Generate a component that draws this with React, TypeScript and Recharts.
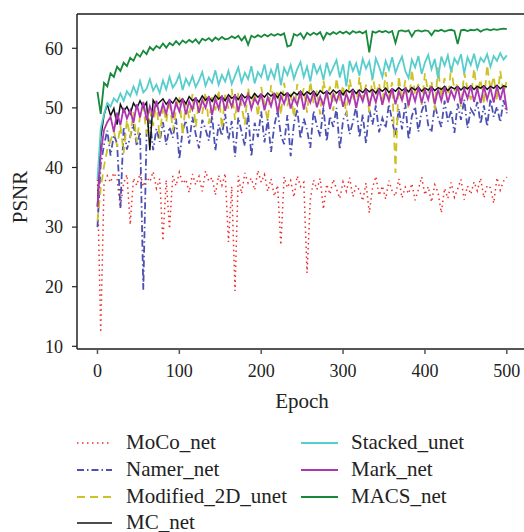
import React from "react";
import {
  Label,
  Legend,
  Line,
  LineChart,
  ReferenceLine,
  XAxis,
  YAxis,
} from "recharts";

const FONT = "Liberation Serif, DejaVu Serif, serif";

// PSNR, one value every 4 epochs (0..500)
const moco = [
  38.0, 12.3, 37.2, 38.6, 37.5, 39.1, 38.0, 33.3, 37.4, 38.8,
  30.4, 38.2, 37.0, 39.0, 36.8, 38.4, 37.6, 39.3, 36.5, 38.1,
  27.7, 37.9, 29.7, 38.6, 36.9, 39.2, 37.3, 38.0, 35.8, 38.9,
  37.1, 38.5, 36.0, 39.4, 37.7, 38.3, 35.4, 38.7, 37.0, 39.0,
  27.5, 36.8, 19.3, 38.6, 35.6, 39.1, 37.4, 38.2, 36.2, 39.5,
  37.5, 38.8, 36.0, 38.1, 35.2, 37.0, 27.0, 38.4, 36.6, 37.8,
  35.0, 38.6, 36.8, 37.5, 22.3, 34.6, 37.9, 36.3, 38.2, 33.0,
  37.2, 35.5, 38.0, 36.4, 34.8, 37.6, 36.0, 38.3, 35.1, 37.0,
  36.2, 34.4, 37.4, 32.4, 36.6, 38.5, 35.3, 36.9, 34.7, 37.8,
  36.0, 35.2, 38.1, 34.9, 36.7, 35.6, 37.3, 34.5, 36.3, 38.4,
  35.4, 36.8, 34.2, 37.1, 35.8, 32.4, 36.5, 34.8, 37.5, 35.0,
  36.4, 38.0, 34.6, 36.9, 35.5, 37.6, 36.1, 38.2, 34.9, 37.0,
  36.6, 34.0, 38.3, 36.2, 37.7, 38.4,
];

const namer = [
  30.0, 40.5, 43.8, 46.2, 42.0, 45.5, 44.0, 33.2, 46.8, 43.0,
  45.2, 47.3, 43.6, 46.0, 19.5, 45.8, 48.0, 42.9, 46.5, 44.3,
  47.6, 43.8, 46.8, 45.0, 48.2, 41.4, 46.2, 47.9, 44.0, 48.5,
  45.6, 43.2, 48.0, 46.4, 44.5, 48.7, 42.8, 47.2, 45.3, 49.0,
  44.6, 47.8, 41.8, 48.4, 46.0, 43.6, 49.2, 41.8, 47.5, 45.1,
  49.4, 44.2, 48.1, 42.6, 47.0, 49.6, 45.4, 43.9, 48.8, 41.9,
  47.4, 49.8, 44.8, 48.2, 46.3, 43.3, 49.5, 47.0, 45.2, 50.1,
  44.4, 48.6, 46.8, 50.0, 43.0, 48.0, 49.2, 45.6, 47.6, 50.3,
  45.0, 48.9, 44.0, 49.8, 47.2, 50.4, 45.9, 48.3, 46.6, 50.6,
  47.8, 45.2, 49.9, 46.4, 50.8, 44.7, 48.6, 50.2, 46.0, 49.4,
  51.0, 47.1, 45.9, 50.5, 48.4, 46.8, 51.2, 47.7, 49.6, 45.8,
  50.7, 48.0, 51.4, 46.6, 49.8, 48.9, 51.0, 47.3, 50.4, 46.9,
  51.5, 48.5, 50.2, 47.6, 51.3, 49.1,
];

const modified2d = [
  31.0, 36.5, 40.2, 43.0, 44.5, 46.2, 43.5, 47.0, 42.4, 48.0,
  45.0, 49.3, 44.2, 48.6, 50.2, 45.6, 49.5, 47.0, 51.0, 44.8,
  50.4, 47.6, 51.5, 46.2, 49.8, 52.0, 45.5, 50.9, 48.3, 52.3,
  46.8, 51.2, 49.0, 52.6, 47.3, 51.8, 49.6, 53.0, 46.5, 52.2,
  49.9, 53.2, 48.0, 52.5, 50.4, 47.2, 53.4, 50.0, 52.8, 48.5,
  53.5, 50.6, 47.8, 53.8, 51.0, 53.0, 48.8, 54.2, 50.3, 52.4,
  48.4, 54.0, 51.4, 53.3, 49.2, 54.4, 50.8, 52.9, 48.9, 54.6,
  51.6, 53.6, 49.5, 55.0, 51.2, 53.8, 48.6, 54.8, 52.0, 50.1,
  55.2, 51.5, 53.9, 49.3, 55.6, 52.2, 54.1, 50.4, 56.0, 51.8,
  54.3, 39.1, 55.4, 51.0, 54.6, 49.8, 56.4, 52.3, 54.0, 50.5,
  55.8, 52.6, 54.5, 49.6, 56.8, 51.7, 55.0, 50.9, 57.0, 52.8,
  54.2, 50.2, 55.9, 53.1, 51.4, 56.6, 52.4, 54.8, 50.6, 57.2,
  53.0, 55.3, 51.2, 56.2, 52.5, 54.6,
];

const mc = [
  33.5, 45.0, 48.8, 50.6, 48.7, 49.9, 47.2, 50.6, 49.4, 50.2,
  49.0, 50.8, 49.9, 51.2, 50.1, 50.9, 42.9, 51.3, 50.4, 51.0,
  51.5, 50.6, 51.3, 50.8, 51.7, 51.0, 51.5, 50.7, 51.9, 51.2,
  51.6, 51.0, 52.0, 51.3, 51.8, 51.1, 52.1, 51.5, 51.9, 51.2,
  52.2, 51.6, 52.0, 51.4, 52.3, 51.7, 52.1, 51.6, 52.4, 51.8,
  52.3, 51.8, 52.5, 52.0, 52.4, 51.7, 52.6, 52.1, 52.5, 51.9,
  52.6, 52.2, 52.8, 52.1, 52.7, 52.3, 52.8, 52.0, 52.9, 52.4,
  52.8, 52.3, 53.0, 52.5, 52.9, 52.2, 53.0, 52.6, 53.1, 52.4,
  53.0, 52.6, 53.2, 52.7, 53.1, 52.5, 53.2, 52.8, 53.3, 52.6,
  53.2, 52.8, 53.4, 52.9, 53.3, 52.7, 53.4, 53.0, 53.5, 52.8,
  53.3, 53.0, 53.5, 52.9, 53.4, 53.1, 53.6, 52.9, 53.5, 53.2,
  53.6, 53.0, 53.5, 53.2, 53.7, 53.1, 53.6, 53.3, 53.7, 53.1,
  53.6, 53.3, 53.8, 53.2, 53.7, 53.5,
];

const stacked = [
  38.0, 46.5, 49.0, 50.8, 50.2, 51.6, 51.0, 52.4, 51.2, 52.8,
  52.0, 53.6, 52.3, 54.5, 52.6, 53.2, 54.8, 52.9, 53.9, 52.5,
  54.6, 53.1, 55.2, 53.4, 54.2, 55.6, 53.0, 54.9, 53.8, 55.3,
  53.5, 54.6, 56.0, 53.7, 55.1, 54.2, 56.3, 53.9, 55.5, 54.4,
  56.2, 54.0, 55.4, 56.8, 54.3, 55.9, 54.8, 57.0, 54.1, 56.0,
  55.2, 57.3, 54.6, 56.4, 55.0, 57.5, 53.8, 56.7, 55.5, 57.2,
  54.9, 56.5, 57.7, 55.2, 56.9, 54.4, 57.5, 55.8, 57.0, 54.7,
  57.6, 55.6, 56.8, 58.0, 55.1, 57.3, 53.6, 57.9, 56.2, 57.5,
  55.4, 58.2, 56.6, 57.8, 54.8, 58.3, 56.9, 55.2, 57.9, 56.4,
  58.5, 55.9, 57.4, 58.6, 56.2, 55.0, 58.1, 56.8, 58.7, 55.7,
  57.6, 58.9, 56.5, 58.2, 54.9, 58.6, 57.1, 58.8, 56.0, 58.3,
  57.4, 59.0, 55.8, 58.5, 57.2, 59.1, 56.6, 58.4, 57.7, 59.0,
  56.9, 58.7, 57.9, 59.2, 58.1, 58.8,
];

const mark = [
  33.4, 42.4, 46.3, 47.6, 48.5, 46.0, 49.2, 47.1, 50.0, 48.2,
  49.6, 47.5, 50.6, 48.4, 51.0, 47.9, 50.3, 48.8, 51.2, 48.6,
  50.7, 49.0, 51.5, 48.3, 50.9, 49.4, 51.6, 48.9, 51.1, 49.7,
  51.8, 49.2, 51.3, 50.0, 52.0, 48.8, 51.5, 49.9, 52.1, 49.5,
  51.7, 50.2, 52.3, 49.3, 51.9, 50.4, 52.2, 49.8, 51.6, 50.6,
  52.4, 49.6, 51.8, 50.3, 52.5, 49.2, 52.0, 50.7, 52.6, 49.9,
  51.7, 50.5, 52.8, 49.7, 52.2, 50.9, 52.7, 50.1, 51.9, 50.4,
  52.9, 49.8, 52.3, 51.0, 52.8, 50.2, 52.4, 50.8, 53.0, 50.0,
  52.5, 51.1, 53.1, 50.3, 52.6, 50.9, 53.2, 50.5, 52.7, 51.2,
  53.3, 50.6, 52.8, 51.3, 53.4, 50.4, 52.9, 51.1, 53.5, 50.8,
  53.0, 51.4, 53.6, 50.6, 53.1, 51.2, 53.5, 50.9, 52.9, 51.5,
  53.6, 50.7, 53.2, 51.6, 53.7, 51.0, 53.3, 50.8, 53.6, 51.4,
  53.4, 50.9, 53.7, 51.3, 53.5, 49.6,
];

const macs = [
  52.7, 49.0, 54.2, 53.6, 55.8, 55.2, 56.9, 56.2, 57.6, 57.0,
  58.4, 57.9, 59.1, 58.6, 59.6, 59.0, 60.2, 59.7, 60.4, 60.0,
  60.8, 60.1, 60.9, 60.5, 61.2, 60.6, 61.3, 60.9, 61.4, 61.0,
  61.5, 60.8, 61.6, 61.3, 61.7, 61.2, 61.8, 61.4, 61.9, 61.5,
  61.6, 62.0, 61.7, 62.1, 61.3, 62.0, 60.6, 62.1, 61.8, 62.2,
  61.9, 62.3, 62.0, 62.4, 62.1, 62.4, 62.2, 62.5, 60.3, 60.5,
  62.4, 62.1, 62.5, 61.6, 62.6, 62.2, 62.6, 62.3, 62.7, 61.5,
  62.6, 62.3, 62.7, 62.4, 62.8, 62.5, 62.8, 62.4, 62.9, 62.6,
  62.8, 62.5, 62.9, 59.3, 62.8, 62.6, 62.9, 62.7, 62.9, 62.6,
  62.9, 60.9, 62.9, 63.0, 62.8, 63.0, 62.0, 62.9, 63.0, 62.8,
  63.0, 62.9, 62.2, 63.0, 62.9, 63.1, 62.8, 63.0, 63.1, 62.9,
  60.7, 63.0, 63.1, 62.9, 63.1, 63.0, 63.2, 62.8, 63.1, 63.2,
  63.0, 63.2, 63.1, 63.2, 63.3, 63.2,
];

const epochs = moco.map((_, i) => i * 4);
const xTicks = [0, 100, 200, 300, 400, 500];
const yTicks = [10, 20, 30, 40, 50, 60];
const Y_MIN = 9.55;
const Y_MAX = 65.75;

const series = [
  { name: "MoCo_net", values: moco },
  { name: "Namer_net", values: namer },
  { name: "Modified_2D_unet", values: modified2d },
  { name: "MC_net", values: mc },
  { name: "Stacked_unet", values: stacked },
  { name: "Mark_net", values: mark },
  { name: "MACS_net", values: macs },
];

const styles: Record<string, { color: string; dash?: string; width: number }> = {
  MoCo_net: { color: "#ee2e2e", dash: "1.5 3.5", width: 1.5 },
  Namer_net: { color: "#4b50b2", dash: "7 3 1.5 3", width: 1.8 },
  Modified_2D_unet: { color: "#cdc225", dash: "8 5", width: 1.8 },
  MC_net: { color: "#111111", width: 1.5 },
  Stacked_unet: { color: "#58cdcd", width: 1.8 },
  Mark_net: { color: "#ad36b3", width: 1.8 },
  MACS_net: { color: "#16893a", width: 1.8 },
};

const data = epochs.map((epoch, i) => {
  const row: Record<string, number> = { epoch };
  series.forEach((s) => {
    row[s.name] = s.values[i];
  });
  return row;
});

function LegendBox() {
  const cols = [series.slice(0, 4), series.slice(4)];
  const colX = [
    { line: 77, text: 126, len: 35 },
    { line: 301, text: 351, len: 37 },
  ];
  return (
    <div style={{ position: "relative", width: 524, height: 110 }}>
      {cols.map((col, c) =>
        col.map((s, r) => {
          const st = styles[s.name];
          const top = r * 26.8;
          return (
            <div key={s.name}>
              <svg
                width={colX[c].len}
                height={27}
                style={{ position: "absolute", left: colX[c].line, top }}
              >
                <line
                  x1={0}
                  x2={colX[c].len}
                  y1={14}
                  y2={14}
                  stroke={st.color}
                  strokeWidth={st.width}
                  strokeDasharray={st.dash}
                />
              </svg>
              <span
                style={{
                  position: "absolute",
                  left: colX[c].text,
                  top,
                  lineHeight: "27px",
                  fontSize: 21,
                  fontFamily: FONT,
                  color: "#222",
                  whiteSpace: "nowrap",
                }}
              >
                {s.name}
              </span>
            </div>
          );
        })
      )}
    </div>
  );
}

export default function App() {
  return (
    <div style={{ position: "absolute", left: 0, top: 0, width: 524, height: 532, overflow: "hidden" }}>
      <LineChart
        width={524}
        height={532}
        data={data}
        margin={{ top: 14, right: 0, left: 0, bottom: 123 }}
      >
        <XAxis
          dataKey="epoch"
          type="number"
          domain={[-25, 521]}
          allowDataOverflow
          ticks={xTicks}
          height={60}
          tickSize={5}
          tickMargin={10}
          axisLine={{ stroke: "#555", strokeWidth: 2 }}
          tickLine={{ stroke: "#555", strokeWidth: 1.5 }}
          tick={{ fontSize: 18, fontFamily: FONT, fill: "#222" }}
        >
          <Label
            content={() => (
              <text x={302} y={408} textAnchor="middle" fontSize={21} fontFamily={FONT} fill="#222">
                Epoch
              </text>
            )}
          />
        </XAxis>
        <YAxis
          type="number"
          domain={[Y_MIN, Y_MAX]}
          allowDataOverflow
          ticks={yTicks}
          width={77}
          tickSize={5}
          tickMargin={9}
          axisLine={{ stroke: "#222", strokeWidth: 1.5 }}
          tickLine={{ stroke: "#222", strokeWidth: 1.2 }}
          tick={{ fontSize: 18, fontFamily: FONT, fill: "#222" }}
        >
          <Label
            content={() => (
              <text
                x={27}
                y={197}
                transform="rotate(-90 27 197)"
                textAnchor="middle"
                fontSize={21}
                fontFamily={FONT}
                fill="#222"
              >
                PSNR
              </text>
            )}
          />
        </YAxis>
        <ReferenceLine y={Y_MAX} stroke="#555" strokeWidth={2} />
        {series.map((s) => (
          <Line
            key={s.name}
            dataKey={s.name}
            type="linear"
            dot={false}
            activeDot={false}
            stroke={styles[s.name].color}
            strokeWidth={styles[s.name].width}
            strokeDasharray={styles[s.name].dash}
            isAnimationActive={false}
          />
        ))}
        <Legend
          layout="horizontal"
          verticalAlign="middle"
          align="center"
          wrapperStyle={{ top: 429, left: 0, width: 524, height: 110 }}
          content={() => <LegendBox />}
        />
      </LineChart>
    </div>
  );
}
